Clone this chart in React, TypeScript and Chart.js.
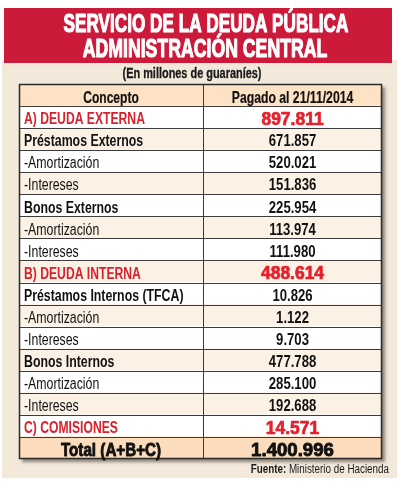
import React, { useEffect, useRef } from "react";
import { Chart, registerables } from "chart.js";

Chart.register(...registerables);

const TITLE_LINES = ["SERVICIO DE LA DEUDA PÚBLICA", "ADMINISTRACIÓN CENTRAL"];
const SUBTITLE = "(En millones de guaraníes)";
const HEADERS = ["Concepto", "Pagado al 21/11/2014"];
const CONCEPTS = [
  "A) DEUDA EXTERNA",
  "Préstamos Externos",
  "-Amortización",
  "-Intereses",
  "Bonos Externos",
  "-Amortización",
  "-Intereses",
  "B) DEUDA INTERNA",
  "Préstamos Internos (TFCA)",
  "-Amortización",
  "-Intereses",
  "Bonos Internos",
  "-Amortización",
  "-Intereses",
  "C) COMISIONES",
  "Total (A+B+C)",
];
const VALUES = [
  897811, 671857, 520021, 151836, 225954, 113974, 111980, 488614, 10826, 1122,
  9703, 477788, 285100, 192688, 14571, 1400996,
];
const ROW_KINDS = [
  "group", "sub", "item", "item", "sub", "item", "item", "group", "sub", "item",
  "item", "sub", "item", "item", "group", "total",
];
const SOURCE_LABEL = "Fuente:";
const SOURCE_TEXT = " Ministerio de Hacienda";

const SANS = '"Liberation Sans", Arial, Helvetica, sans-serif';
const NS = 0.82; // narrow scale
const SPLIT = 1.014;

const fmt = (n: number) => String(n).replace(/\B(?=(\d{3})+(?!\d))/g, ".");

function txt(
  ctx: CanvasRenderingContext2D,
  text: string,
  x: number,
  y: number,
  font: string,
  color: string,
  align: CanvasTextAlign,
  scaleX = 1,
  heavy = 0
) {
  ctx.save();
  ctx.font = font;
  ctx.fillStyle = color;
  ctx.textAlign = align;
  ctx.textBaseline = "alphabetic";
  ctx.translate(x, y);
  ctx.scale(scaleX, 1);
  if (heavy > 0) {
    ctx.strokeStyle = color;
    ctx.lineWidth = heavy;
    ctx.lineJoin = "round";
    ctx.strokeText(text, 0, 0);
  }
  ctx.fillText(text, 0, 0);
  ctx.restore();
}

export default function App() {
  const ref = useRef<HTMLCanvasElement | null>(null);

  useEffect(() => {
    if (!ref.current) return;
    const labels = [HEADERS[0], ...CONCEPTS];
    const kinds = ["header", ...ROW_KINDS];
    const colors = kinds.map((k, i) => {
      if (k === "header") return "#fde2c4";
      if (k === "total") return "#fbdcbc";
      return (i - 1) % 2 === 1 ? "#fbf1e4" : "#ffffff";
    });

    const bgPlugin = {
      id: "bg",
      beforeDraw(chart: any) {
        const ctx: CanvasRenderingContext2D = chart.ctx;
        const W = chart.width;
        ctx.save();
        ctx.fillStyle = "#ffffff";
        ctx.fillRect(0, 0, W, chart.height);
        ctx.fillStyle = "#f2e9db";
        ctx.fillRect(2, 60, W - 5, 418);
        ctx.fillStyle = "#cc1a3b";
        ctx.fillRect(4, 8, 388, 55);
        ctx.restore();
        txt(ctx, TITLE_LINES[0], 206, 32, `bold 26px ${SANS}`, "#ffffff", "center", 0.66, 1.2);
        txt(ctx, TITLE_LINES[1], 205, 57, `bold 26px ${SANS}`, "#ffffff", "center", 0.68, 1.2);
        txt(ctx, SUBTITLE, 192, 78, `bold 14px ${SANS}`, "#1a1a1a", "center", 0.78, 0.3);
        ctx.save();
        ctx.font = `12px ${SANS}`;
        const w2 = ctx.measureText(SOURCE_TEXT).width * NS;
        ctx.font = `bold 12px ${SANS}`;
        const w1 = ctx.measureText(SOURCE_LABEL).width * NS;
        ctx.restore();
        const rx = 389;
        txt(ctx, SOURCE_LABEL, rx - w2 - w1, 473, `bold 12px ${SANS}`, "#1a1a1a", "left", NS);
        txt(ctx, SOURCE_TEXT, rx - w2, 473, `12px ${SANS}`, "#1a1a1a", "left", NS);
      },
      beforeDatasetsDraw(chart: any) {
        const ctx: CanvasRenderingContext2D = chart.ctx;
        const a = chart.chartArea;
        ctx.save();
        ctx.shadowColor = "rgba(60,50,40,0.55)";
        ctx.shadowBlur = 3;
        ctx.shadowOffsetX = 3;
        ctx.shadowOffsetY = 3;
        ctx.fillStyle = "#ffffff";
        ctx.fillRect(a.left, a.top, a.right - a.left, a.bottom - a.top);
        ctx.restore();
      },
      afterDatasetsDraw(chart: any) {
        const ctx: CanvasRenderingContext2D = chart.ctx;
        const m0 = chart.getDatasetMeta(0).data;
        const m1 = chart.getDatasetMeta(1).data;
        const a = chart.chartArea;
        ctx.save();
        ctx.strokeStyle = "#3c3c3c";
        ctx.lineWidth = 1;
        ctx.beginPath();
        m0.forEach((b: any) => {
          const yTop = Math.round(b.y - b.height / 2) + 0.5;
          ctx.moveTo(a.left, yTop);
          ctx.lineTo(a.right, yTop);
        });
        const xs = Math.round(m0[0].x) + 0.5;
        ctx.moveTo(xs, a.top);
        ctx.lineTo(xs, a.bottom);
        ctx.stroke();
        ctx.lineWidth = 1.5;
        ctx.strokeStyle = "#2a2a2a";
        ctx.strokeRect(
          Math.round(a.left) + 0.5,
          Math.round(a.top) + 0.5,
          Math.round(a.right - a.left) - 1,
          Math.round(a.bottom - a.top) - 1
        );
        ctx.restore();

        labels.forEach((label, i) => {
          const k = kinds[i];
          const c0 = m0[i];
          const c1 = m1[i];
          const cy = c0.y + 1.5;
          const leftCx = (c0.base + c0.x) / 2;
          const rightCx = (c1.base + c1.x) / 2;
          if (k === "header") {
            txt(ctx, label, leftCx, cy + 6, `bold 16.5px ${SANS}`, "#111", "center", 0.73, 0.2);
            txt(ctx, HEADERS[1], rightCx, cy + 6, `bold 16.5px ${SANS}`, "#111", "center", 0.74, 0.2);
            return;
          }
          const v = fmt(VALUES[i - 1]);
          if (k === "total") {
            txt(ctx, label, leftCx, cy + 6.8, `bold 19px ${SANS}`, "#111", "center", 0.8, 0.9);
            txt(ctx, v, rightCx, cy + 6.8, `bold 19px ${SANS}`, "#111", "center", 0.98, 0.9);
            return;
          }
          const lx = c0.base + 5;
          if (k === "group") {
            txt(ctx, label, lx, cy + 5.7, `bold 16px ${SANS}`, "#d8212d", "left", 0.76);
            txt(ctx, v, rightCx, cy + 6.4, `bold 18px ${SANS}`, "#e6202d", "center", 0.97, 0.7);
          } else if (k === "sub") {
            txt(ctx, label, lx, cy + 5.7, `bold 16px ${SANS}`, "#111", "left", 0.77);
            txt(ctx, v, rightCx, cy + 5.7, `bold 16px ${SANS}`, "#111", "center", NS);
          } else {
            txt(ctx, label, lx, cy + 5.7, `16px ${SANS}`, "#111", "left", 0.77);
            txt(ctx, v, rightCx, cy + 5.7, `bold 16px ${SANS}`, "#111", "center", NS);
          }
        });
      },
    };

    const chart = new Chart(ref.current, {
      type: "bar",
      data: {
        labels,
        datasets: [
          {
            label: HEADERS[0],
            data: labels.map(() => [0, SPLIT]) as any,
            backgroundColor: colors,
            borderWidth: 0,
            grouped: false,
            barPercentage: 1,
            categoryPercentage: 1,
          } as any,
          {
            label: HEADERS[1],
            data: labels.map(() => [SPLIT, 2]) as any,
            backgroundColor: colors,
            borderWidth: 0,
            grouped: false,
            barPercentage: 1,
            categoryPercentage: 1,
          } as any,
        ],
      },
      options: {
        indexAxis: "y",
        responsive: false,
        maintainAspectRatio: false,
        animation: false,
        layout: { padding: { left: 19, right: 18, top: 84, bottom: 26 } },
        scales: {
          x: { type: "linear", min: 0, max: 2, display: false },
          y: { type: "category", display: false },
        },
        plugins: {
          legend: { display: false },
          tooltip: { enabled: false },
          title: { display: false },
        },
      },
      plugins: [bgPlugin],
    });
    return () => chart.destroy();
  }, []);

  return (
    <div style={{ position: "fixed", left: 0, top: 0, width: 400, height: 485 }}>
      <canvas ref={ref} width={400} height={485} style={{ display: "block", width: 400, height: 485 }} />
    </div>
  );
}
